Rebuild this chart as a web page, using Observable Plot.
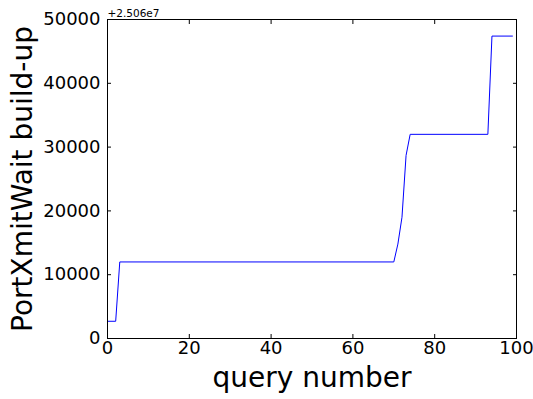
<!DOCTYPE html>
<html>
<head>
<meta charset="utf-8">
<script src="https://cdn.jsdelivr.net/npm/d3@7"></script>
<script src="https://cdn.jsdelivr.net/npm/@observablehq/plot@0.6"></script>
<style>
  html, body { margin: 0; padding: 0; background: #fff; }
  svg { font-family: "DejaVu Sans", sans-serif; }
</style>
</head>
<body>
<div id="chart"></div>
<script>
// Breakpoints of the line (query number, PortXmitWait build-up minus 2.506e7)
const queryNumber = [0, 2, 3, 70, 71, 72, 73, 74, 93, 94, 99];
const buildUp = [2700, 2700, 12000, 12000, 14800, 19000, 28700, 32000, 32000, 47400, 47400];
const xTicks = [0, 20, 40, 60, 80, 100];
const yTicks = [0, 10000, 20000, 30000, 40000, 50000];
const offsetLabel = "+2.506e7";
const xLabel = "query number";
const yLabel = "PortXmitWait build-up";

const data = queryNumber.map((q, i) => ({q, v: buildUp[i]}));

const chart = Plot.plot({
  width: 533,
  height: 399,
  marginLeft: 107,
  marginRight: 17,
  marginTop: 19,
  marginBottom: 61,
  style: {fontFamily: "DejaVu Sans, sans-serif", background: "#fff", color: "black"},
  x: {domain: [0, 100]},
  y: {domain: [0, 50000]},
  marks: [
    Plot.line(data, {x: "q", y: "v", stroke: "#0000ff", strokeWidth: 1}),
    Plot.axisX({ticks: xTicks, anchor: "bottom", tickSize: 0, tickPadding: 3, fontSize: 18, label: null, tickFormat: d => String(d)}),
    Plot.axisX({ticks: xTicks, anchor: "bottom", tickSize: 4, dy: -4, text: null, label: null}),
    Plot.axisX({ticks: xTicks, anchor: "top", tickSize: 4, dy: 4, text: null, label: null}),
    Plot.axisY({ticks: yTicks, anchor: "left", tickSize: 0, tickPadding: 7, fontSize: 18, label: null, tickFormat: d => String(d)}),
    Plot.axisY({ticks: yTicks, anchor: "left", tickSize: 4, dx: 4, text: null, label: null}),
    Plot.axisY({ticks: yTicks, anchor: "right", tickSize: 4, dx: -4, text: null, label: null}),
    Plot.frame({stroke: "black", strokeWidth: 1}),
    Plot.text([offsetLabel], {text: d => d, frameAnchor: "top-left", textAnchor: "start", lineAnchor: "bottom", dy: -3, fontSize: 10.5}),
    Plot.text([xLabel], {text: d => d, frameAnchor: "bottom", textAnchor: "middle", lineAnchor: "bottom", dy: 48.5, fontSize: 28}),
    Plot.text([yLabel], {text: d => d, frameAnchor: "left", textAnchor: "middle", rotate: -90, lineAnchor: "bottom", dx: -76, fontSize: 28})
  ]
});
document.getElementById("chart").appendChild(chart);
</script>
</body>
</html>
